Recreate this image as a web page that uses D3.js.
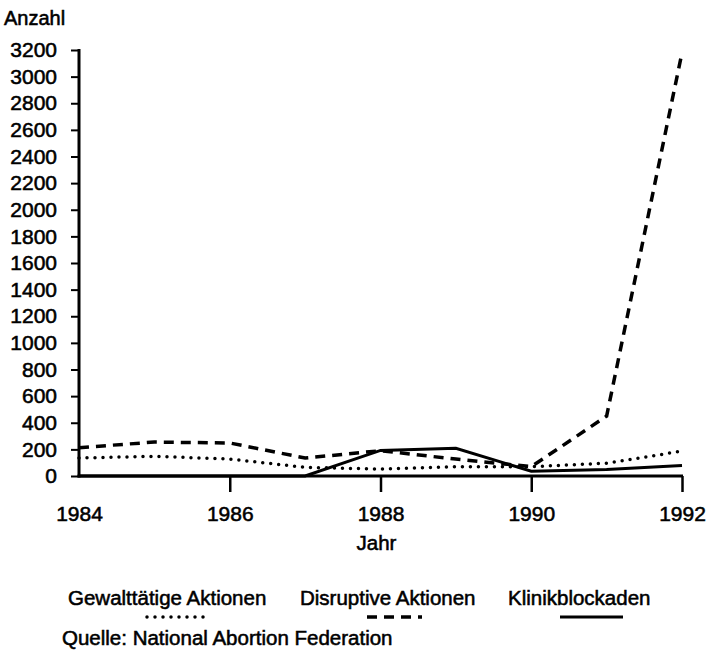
<!DOCTYPE html>
<html>
<head>
<meta charset="utf-8">
<script src="https://cdn.jsdelivr.net/npm/d3@7"></script>
<style>
body{margin:0;background:#fff;}
text{font-family:"Liberation Sans",Arial,sans-serif;fill:#000;stroke:#000;stroke-width:0.55px;}
</style>
</head>
<body>
<div class="main"></div>
<script>
var years=[1984,1985,1986,1987,1988,1989,1990,1991,1992];
var gewalt=[135,148,127,65,52,70,70,96,187];
var disruptiv=[213,255,248,135,190,127,70,450,3180];
var blockaden=[0,0,0,0,192,208,36,48,78];
var yTicks=[0,200,400,600,800,1000,1200,1400,1600,1800,2000,2200,2400,2600,2800,3000,3200];
var xTicks=[1984,1986,1988,1990,1992];

var width=708, height=651;
var svg=d3.select('.main').append('svg')
    .attr('width',width)
    .attr('height',height);

var x=d3.scaleLinear().domain([1984,1992]).range([79,682]);
var y=d3.scaleLinear().domain([0,3200]).range([476,50]);

// y axis
var yAxis=d3.axisLeft(y).tickValues(yTicks).tickSize(8).tickPadding(14).tickFormat(d3.format('d'));
var yg=svg.append('g').attr('transform','translate('+x(1984)+',0)').call(yAxis);
yg.select('.domain').remove();
yg.selectAll('line').attr('stroke','#000').attr('stroke-width',2);
yg.selectAll('text').style('font-size','21px').attr('font-family',null);
svg.append('line')
    .attr('x1',x(1984)).attr('x2',x(1984))
    .attr('y1',y(3200)-1).attr('y2',y(0)+1.5)
    .attr('stroke','#000').attr('stroke-width',3);

// x axis
var xAxis=d3.axisBottom(x).tickValues(xTicks).tickSize(16).tickPadding(14).tickFormat(d3.format('d'));
var xg=svg.append('g').attr('transform','translate(0,'+y(0)+')').call(xAxis);
xg.select('.domain').remove();
xg.selectAll('line').attr('stroke','#000').attr('stroke-width',2.5)
    .style('opacity',function(d){return d===1984?0:1;});
xg.selectAll('text').style('font-size','21px');
svg.append('line')
    .attr('x1',x(1984)-1.5).attr('x2',x(1992)+1)
    .attr('y1',y(0)).attr('y2',y(0))
    .attr('stroke','#000').attr('stroke-width',3);

svg.append('text').attr('x',4).attr('y',25).style('font-size','20px').text('Anzahl');
svg.append('text').attr('x',x(1988)-4).attr('y',550).attr('text-anchor','middle').style('font-size','20.5px').text('Jahr');

// lines
var line=d3.line().x(function(d){return x(d[0]);}).y(function(d){return y(d[1]);});
var series=[
  {name:'Gewalttätige Aktionen',values:gewalt,dash:'0 8',cap:'round',w:3.5},
  {name:'Disruptive Aktionen',values:disruptiv,dash:'10 7',cap:'butt',w:3.5},
  {name:'Klinikblockaden',values:blockaden,dash:null,cap:'butt',w:3}
];
series.forEach(function(s){
  svg.append('path')
    .datum(years.map(function(yr,i){return [yr,s.values[i]];}))
    .attr('d',line)
    .attr('fill','none')
    .attr('stroke','#000')
    .attr('stroke-width',s.w)
    .attr('stroke-linecap',s.cap)
    .attr('stroke-dasharray',s.dash);
});

// legend
var legend=[
  {tx:68,x1:147,x2:207},
  {tx:300,x1:367,x2:422},
  {tx:508,x1:560,x2:623}
];
legend.forEach(function(l,i){
  var s=series[i];
  svg.append('text').attr('x',l.tx).attr('y',605).style('font-size','20.5px').text(s.name);
  svg.append('line')
    .attr('x1',l.x1).attr('x2',l.x2).attr('y1',617).attr('y2',617)
    .attr('stroke','#000').attr('stroke-width',s.w)
    .attr('stroke-linecap',s.cap)
    .attr('stroke-dasharray',s.dash);
});
svg.append('text').attr('x',62).attr('y',645).style('font-size','20.5px').text('Quelle: National Abortion Federation');
</script>
</body>
</html>
